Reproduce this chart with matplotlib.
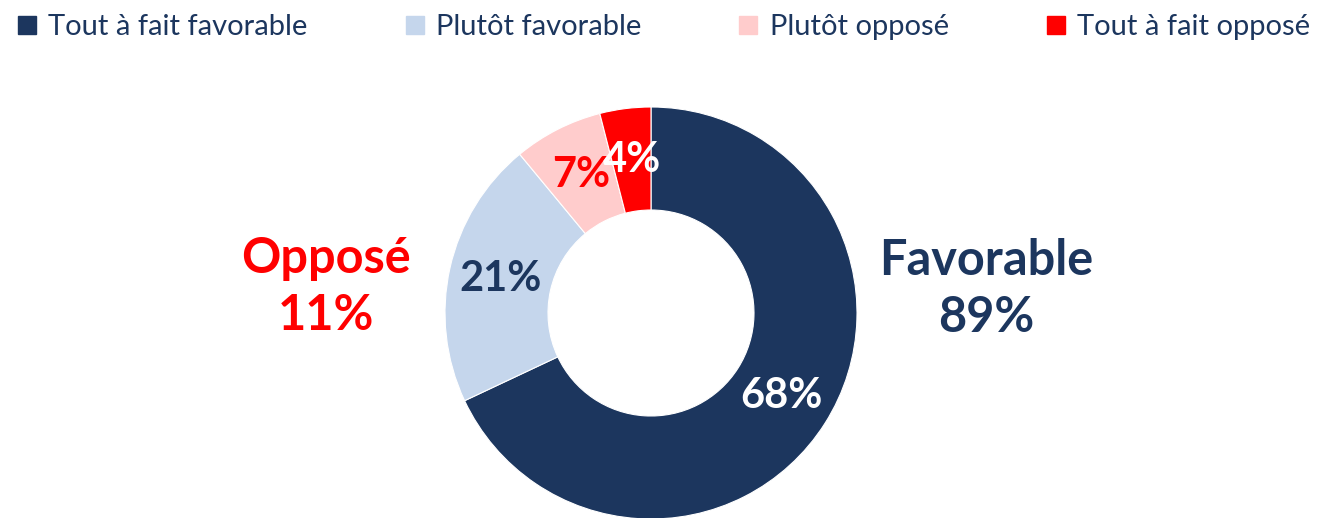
import matplotlib.pyplot as plt
from matplotlib.lines import Line2D

plt.rcParams['font.family'] = ['Lato', 'DejaVu Sans']

# data
categories = ['Tout à fait favorable', 'Plutôt favorable', 'Plutôt opposé', 'Tout à fait opposé']
values = [68, 21, 7, 4]
colors = ['#1C365E', '#C5D6EC', '#FFCCCC', '#FF0000']
label_colors = ['white', '#1C365E', '#FF0000', 'white']
group_labels = ['Favorable\n89%', 'Opposé\n11%']
group_colors = ['#1C365E', '#FF0000']

W, H = 1324, 518
fig = plt.figure(figsize=(W / 100, H / 100), dpi=100)

# donut axes: centre (651, 313) px, radius 206 px
cx, cy, r = 651, 313, 206
ax = fig.add_axes([(cx - r) / W, (H - cy - r) / H, 2 * r / W, 2 * r / H])
wedges, texts, autotexts = ax.pie(
    values, colors=colors, startangle=90, counterclock=False,
    autopct='%d%%', pctdistance=0.75, radius=1,
    wedgeprops=dict(width=0.5, edgecolor='white', linewidth=0.8),
)
for t, c in zip(autotexts, label_colors):
    t.set_color(c)
    t.set_fontsize(30)
    t.set_fontweight('bold')
ax.set_aspect('equal')
ax.set_xlim(-1, 1)
ax.set_ylim(-1, 1)

# group labels
fig.text(986 / W, 1 - 289 / H, group_labels[0], ha='center', va='center',
         fontsize=35, fontweight='bold', color=group_colors[0], linespacing=1.3)
fig.text(326 / W, 1 - 287 / H, group_labels[1], ha='center', va='center',
         fontsize=35, fontweight='bold', color=group_colors[1], linespacing=1.3)

# legend
handles = [Line2D([], [], marker='s', linestyle='none', markersize=12.5,
                  markerfacecolor=c, markeredgecolor=c) for c in colors]
fig.legend(handles, categories, loc='lower left',
           bbox_to_anchor=(4 / W, 1 - 52 / H, 1318 / W, 40 / H),
           mode='expand', ncol=4, frameon=False, fontsize=21,
           handlelength=0.75, handletextpad=0.35, borderaxespad=0,
           labelcolor='#1C365E')

fig.savefig('out.png', dpi=100)
